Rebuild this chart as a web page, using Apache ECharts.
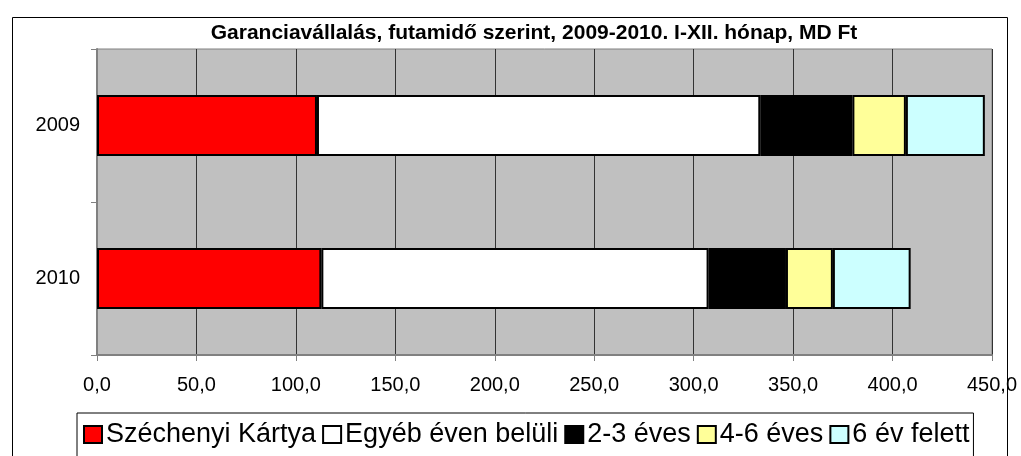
<!DOCTYPE html>
<html lang="hu">
<head>
    <meta charset="UTF-8">
    <title>Garanciavállalás</title>
</head>
<body style="margin:0;">
    <div id="main" style="width: 1021px; height: 456px;"></div>
</body>
<script src="https://cdn.jsdelivr.net/npm/echarts@6/dist/echarts.min.js"></script>
<script>
    // adatok (MD Ft)
    var years = ['2009', '2010'];
    var seriesNames = ['Széchenyi Kártya', 'Egyéb éven belüli', '2-3 éves', '4-6 éves', '6 év felett'];
    var szechenyi = [110.6, 112.8];
    var egyeb = [222.9, 194.7];
    var ev23 = [46.3, 38.9];
    var ev46 = [26.9, 23.6];
    var ev6 = [39.7, 39.1];
    var colors = ['#ff0000', '#ffffff', '#000000', '#ffff99', '#ccffff'];

    var values = [szechenyi, egyeb, ev23, ev46, ev6];
    var font = 'Arial, "Liberation Sans", sans-serif';

    var myChart = echarts.init(document.getElementById('main'));
    var option = {
        backgroundColor: '#fff',
        animation: false,
        textStyle: { fontFamily: font },
        title: {
            text: 'Garanciavállalás, futamidő szerint, 2009-2010. I-XII. hónap, MD Ft',
            left: 529,
            textAlign: 'center',
            top: 18,
            textStyle: { fontSize: 21, fontWeight: 'bold', color: '#000', fontFamily: font }
        },
        graphic: [{
            type: 'rect',
            shape: { x: 12.5, y: 17.5, width: 995, height: 460 },
            style: { fill: 'none', stroke: '#000', lineWidth: 1 },
            z: -1
        }],
        legend: {
            data: seriesNames,
            left: 77,
            top: 413,
            padding: [8, 4, 14, 6],
            itemGap: 6,
            itemWidth: 18,
            itemHeight: 17,
            icon: 'rect',
            borderColor: '#000',
            borderWidth: 1,
            backgroundColor: '#fff',
            textStyle: { fontSize: 27, color: '#000', padding: [0, 0, 0, -1], fontFamily: font }
        },
        grid: {
            left: 97,
            right: 29,
            top: 49,
            bottom: 101,
            show: true,
            backgroundColor: '#c0c0c0',
            borderColor: '#808080',
            borderWidth: 1
        },
        xAxis: {
            type: 'value',
            min: 0,
            max: 450,
            interval: 50,
            axisLine: { show: true, lineStyle: { color: '#808080', width: 2 } },
            axisTick: { show: true, length: 6, lineStyle: { color: '#808080' } },
            axisLabel: {
                fontSize: 20,
                color: '#000',
                margin: 20,
                formatter: function (v) { return v.toFixed(1).replace('.', ','); }
            },
            splitLine: { show: true, lineStyle: { color: '#333', width: 1 } }
        },
        yAxis: {
            type: 'category',
            data: years,
            inverse: true,
            axisLine: { show: true, lineStyle: { color: '#808080', width: 2 } },
            axisTick: { show: true, length: 6, lineStyle: { color: '#808080' } },
            axisLabel: { fontSize: 20, color: '#000', margin: 17 }
        },
        series: values.map(function (arr, i) {
            return {
                name: seriesNames[i],
                type: 'bar',
                stack: 'total',
                barWidth: '40%',
                data: arr,
                itemStyle: { color: colors[i], borderColor: '#000', borderWidth: 2 }
            };
        })
    };
    myChart.setOption(option);
</script>
</html>
